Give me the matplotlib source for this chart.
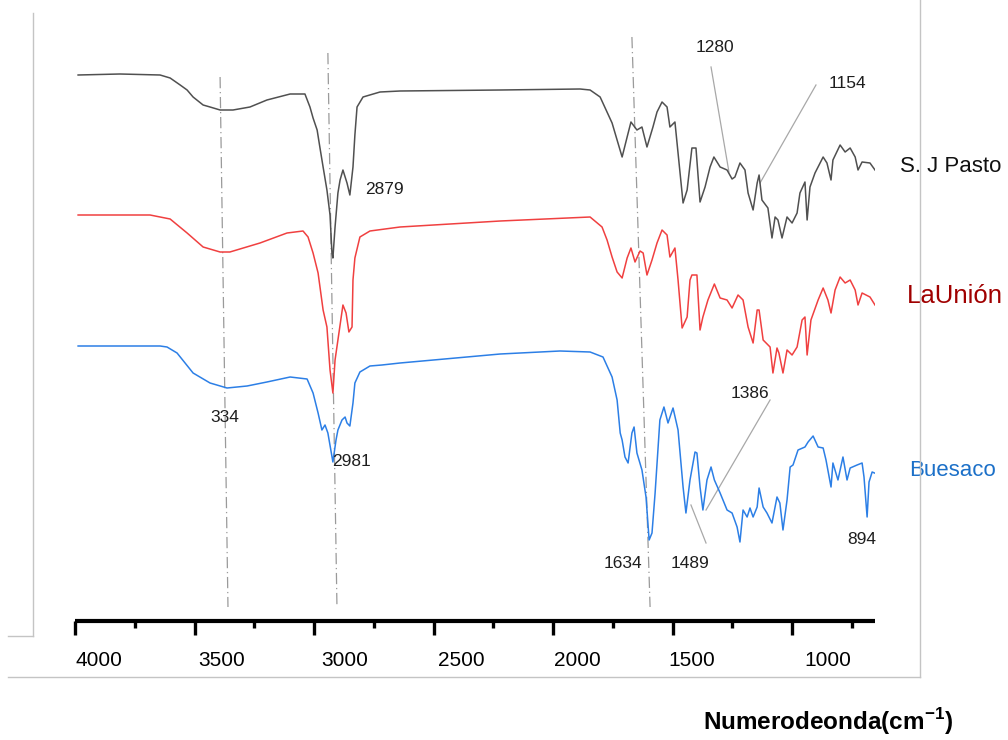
import matplotlib
matplotlib.use("Agg")
import matplotlib.pyplot as plt
from matplotlib.lines import Line2D
from matplotlib.ticker import MultipleLocator
import matplotlib.transforms as mtransforms

plt.rcParams['font.family'] = ['Liberation Sans', 'DejaVu Sans']
plt.rcParams['mathtext.fontset'] = 'custom'
plt.rcParams['mathtext.rm'] = 'Liberation Sans'
plt.rcParams['mathtext.bf'] = 'Liberation Sans:bold'

# ---------------- data (wavenumber cm-1, transmittance in arbitrary offset units) ----------------
sj_wn = [3987, 3812, 3644, 3602, 3560, 3531, 3506, 3464, 3435, 3393, 3339, 3268, 3197, 3100, 3038,
         3017, 3004, 2987, 2975, 2962, 2946, 2933, 2925, 2921, 2912, 2900, 2891, 2879, 2862, 2850,
         2837, 2829, 2820, 2795, 2724, 2640, 2221, 1887, 1845, 1803, 1753, 1732, 1711, 1690, 1674,
         1649, 1628, 1607, 1582, 1565, 1544, 1523, 1511, 1490, 1477, 1456, 1439, 1419, 1402, 1385,
         1364, 1343, 1327, 1301, 1272, 1251, 1239, 1218, 1197, 1184, 1163, 1146, 1138, 1126, 1101,
         1084, 1071, 1059, 1042, 1021, 1000, 979, 967, 946, 937, 925, 904, 870, 854, 837,
         829, 799, 778, 757, 736, 724, 707, 674, 653]
sj_t = [546, 547, 546, 543, 536, 531, 524, 516, 514, 511, 511, 514, 521, 527, 527,
        514, 503, 491, 473, 454, 431, 406, 368, 363, 394, 428, 441, 451, 438, 426,
        454, 486, 514, 524, 529, 530, 531, 532, 531, 524, 498, 481, 464, 484, 499,
        491, 494, 474, 494, 509, 519, 514, 494, 499, 468, 418, 431, 473, 473, 419,
        434, 454, 464, 454, 451, 442, 444, 458, 451, 428, 411, 438, 446, 421, 413,
        383, 404, 401, 383, 404, 398, 408, 428, 439, 401, 434, 448, 464, 458, 441,
        461, 476, 469, 473, 464, 451, 459, 458, 451]

lu_wn = [3987, 3686, 3602, 3531, 3464, 3393, 3352, 3226, 3113, 3046, 3025, 3004, 2983, 2962, 2946,
         2933, 2921, 2912, 2900, 2879, 2866, 2854, 2841, 2837, 2829, 2808, 2766, 2640, 2221, 1845,
         1795, 1774, 1753, 1732, 1711, 1690, 1674, 1657, 1636, 1623, 1607, 1586, 1565, 1544, 1523,
         1511, 1490, 1477, 1460, 1439, 1427, 1419, 1398, 1385, 1373, 1352, 1325, 1301, 1272, 1251,
         1226, 1205, 1184, 1163, 1146, 1138, 1121, 1092, 1080, 1063, 1055, 1038, 1021, 1000, 979,
         958, 946, 937, 921, 891, 870, 850, 837, 820, 799, 778, 757, 736, 724, 707, 674, 653]
lu_t = [406, 406, 402, 388, 374, 369, 369, 378, 388, 390, 384, 368, 348, 311, 294,
        251, 228, 261, 281, 316, 308, 289, 294, 341, 363, 384, 390, 394, 400, 404,
        394, 381, 364, 349, 343, 363, 373, 359, 370, 368, 346, 361, 378, 391, 386,
        364, 373, 341, 293, 304, 341, 346, 346, 291, 304, 321, 337, 323, 321, 313,
        326, 321, 294, 278, 311, 311, 281, 274, 248, 273, 268, 248, 271, 266, 274,
        301, 304, 266, 301, 321, 333, 321, 308, 331, 344, 338, 341, 331, 316, 328, 324, 316]

bu_wn = [3987, 3644, 3615, 3573, 3506, 3435, 3364, 3280, 3197, 3100, 3029, 3004, 2983, 2967, 2954,
         2942, 2921, 2908, 2900, 2883, 2870, 2862, 2850, 2837, 2829, 2808, 2766, 2716, 2640, 2221,
         1971, 1845, 1791, 1753, 1732, 1719, 1711, 1699, 1686, 1670, 1661, 1649, 1628, 1611, 1598,
         1586, 1573, 1553, 1536, 1519, 1498, 1477, 1456, 1444, 1427, 1406, 1398, 1385, 1373, 1356,
         1339, 1325, 1301, 1272, 1251, 1230, 1218, 1205, 1188, 1176, 1163, 1146, 1138, 1121, 1105,
         1084, 1063, 1051, 1038, 1021, 1008, 996, 975, 946, 933, 912, 891, 870, 858, 837, 829,
         808, 787, 770, 757, 728, 707, 699, 686, 678, 665, 655]
bu_t = [275, 275, 274, 268, 248, 238, 233, 235, 239, 244, 242, 228, 208, 191, 196,
        188, 159, 181, 191, 201, 204, 198, 195, 218, 238, 249, 255, 256, 258, 267,
        270, 269, 264, 244, 221, 188, 181, 164, 158, 188, 194, 168, 151, 124, 81,
        88, 128, 201, 214, 198, 213, 191, 134, 108, 141, 169, 168, 134, 111, 141,
        154, 141, 128, 111, 108, 94, 79, 111, 104, 113, 104, 114, 133, 114, 108,
        98, 124, 118, 91, 121, 154, 156, 171, 174, 179, 185, 174, 173, 161, 134, 158,
        141, 164, 141, 153, 156, 158, 144, 104, 139, 149, 148]

series_names = ["S. J Pasto", "LaUnión", "Buesaco"]
tick_values = [4000, 3500, 3000, 2500, 2000, 1500, 1000]
tick_text = ["4000", "3500", "3000", "2500", "2000", "1500", "1000"]
tick_text_wn = [3900, 3385, 2870, 2385, 1900, 1418, 850]

# annotations: label, x (cm-1), y
ann_text = ["2879", "334", "2981", "1634", "1489", "1386", "894", "1280", "1154"]
ann_wn = [2787, 3373, 2845, 1707, 1427, 1176, 707, 1322, 770]
ann_t = [431, 203, 160, 58, 58, 227, 81, 574, 538]

# leader lines (from label to peak)
lead_wn0 = [1339, 900, 1092, 1423]
lead_t0 = [554, 536, 221, 116]
lead_wn1 = [1264, 1134, 1360, 1360]
lead_t1 = [449, 438, 111, 78]

# dash-dot guide lines
guide_wn_top = [3393, 2942, 1670]
guide_t_top = [544, 568, 584]
guide_wn_bot = [3360, 2904, 1594]
guide_t_bot = [14, 14, 14]

# ---------------- figure ----------------
W, H = 1008, 740
fig = plt.figure(figsize=(W / 100, H / 100), dpi=100)
ax = fig.add_axes([75 / W, 1 - 621 / H, 800 / W, 601 / H])
ax.set_xlim(4000, 653)
ax.set_ylim(0, 601)

for x0, y0, x1, y1 in zip(guide_wn_top, guide_t_top, guide_wn_bot, guide_t_bot):
    ax.plot([x0, x1], [y0, y1], color="#9a9a9a", lw=0.9, ls=(0, (9, 3, 1, 3)), zorder=1)

colors = ["#505050", "#f04040", "#2c7fe6"]
for wn, t, c in zip([sj_wn, lu_wn, bu_wn], [sj_t, lu_t, bu_t], colors):
    ax.plot(wn, t, color=c, lw=1.1, zorder=3)

for x0, y0, x1, y1 in zip(lead_wn0, lead_t0, lead_wn1, lead_t1):
    ax.plot([x0, x1], [y0, y1], color="#a8a8a8", lw=0.9, zorder=2)

for s, x, y in zip(ann_text, ann_wn, ann_t):
    ha = "left" if s == "2879" else "center"
    ax.text(x, y, s, ha=ha, va="center", fontsize=12.5, color="#1e1e1e", zorder=4)

# series labels
label_colors = ["#111111", "#a00000", "#1c70c8"]
label_wn = [548, 519, 511]
label_t = [454, 325, 150]
label_sizes = [16, 18.5, 16]
for name, c, x, y, fs in zip(series_names, label_colors, label_wn, label_t, label_sizes):
    ax.text(x, y, name, ha="left", va="center", fontsize=fs, color=c, clip_on=False)

# axes styling
for side in ["left", "right", "top"]:
    ax.spines[side].set_visible(False)
ax.spines["bottom"].set_linewidth(3)
ax.spines["bottom"].set_capstyle("butt")
ax.set_yticks([])
ax.xaxis.set_minor_locator(MultipleLocator(250))
ax.set_xticks(tick_values)
ax.set_xticklabels([])
ax.tick_params(axis="x", which="major", direction="out", length=10, width=2.4, color="black")
ax.tick_params(axis="x", which="minor", direction="out", length=5, width=2.4, color="black")

trans = mtransforms.blended_transform_factory(ax.transData, ax.transAxes)
for s, x in zip(tick_text, tick_text_wn):
    ax.text(x, -0.065, s, transform=trans, ha="center", va="center", fontsize=15,
            color="black", clip_on=False)

fig.text(703 / W, 1 - 722 / H, r"Numerodeonda(cm$^{\mathregular{-1}}$)", ha="left", va="center",
         fontsize=17.5, fontweight="bold")

# light frame lines of the original composite figure
frame = "#c4c4c4"
def fline(xs, ys):
    fig.add_artist(Line2D([x / W for x in xs], [1 - y / H for y in ys], color=frame, lw=1.0))
fline([33, 33], [13, 636])
fline([8, 33], [636, 636])
fline([8, 920], [677, 677])
fline([920, 920], [0, 677])

fig.savefig("out.png", dpi=100)
